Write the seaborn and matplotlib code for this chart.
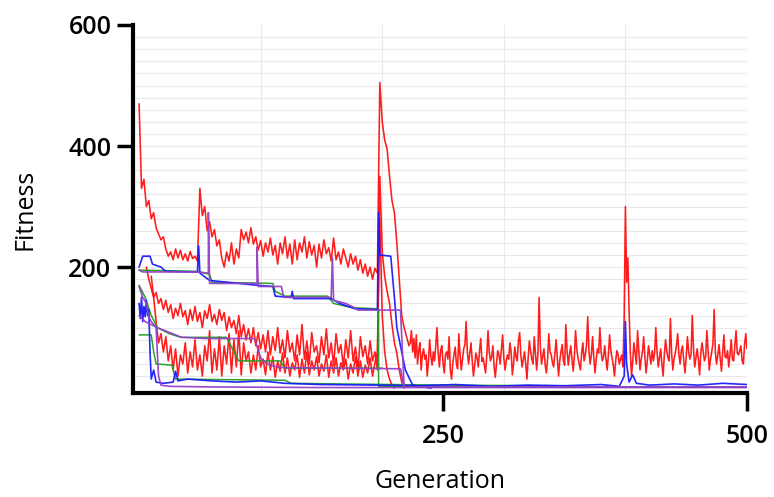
import numpy as np
import pandas as pd
import matplotlib
matplotlib.use("Agg")
import matplotlib.pyplot as plt
import seaborn as sns

# ---- fitness traces (generation, fitness) ----
# run A: sampled every 2 generations up to 222, then every generation
red_a_head_start, red_a_head = 0, [
    470, 330, 345, 300, 310, 280, 290, 265, 255, 245,
    250, 230, 218, 225, 212, 230, 215, 228, 212, 222,
    210, 226, 214, 218, 210, 330, 285, 300, 260, 275,
    250, 262, 235, 245, 215, 200, 225, 210, 240, 205,
    230, 215, 262, 245, 258, 240, 265, 238, 250, 228,
    244, 218, 240, 225, 248, 220, 236, 205, 240, 222,
    250, 215, 238, 205, 245, 212, 240, 225, 250, 215,
    242, 220, 236, 200, 238, 215, 245, 222, 232, 210,
    248, 212, 225, 205, 230, 215, 200, 222, 205, 218,
    195, 212, 190, 205, 185, 200, 180, 198, 190, 505,
    440, 410, 395, 350, 310, 290, 240, 180, 120, 100,
    85, 70,
]
red_a_tail_start, red_a_tail = 223, [
    75, 95, 60, 82, 50, 88, 40, 62, 75, 30, 55, 65, 48, 55, 20, 45, 80, 52, 38, 60,
    45, 70, 100, 58, 35, 62, 70, 42, 25, 55, 60, 48, 85, 30, 15, 40, 55, 68, 40, 32,
    90, 55, 30, 48, 65, 72, 110, 60, 40, 58, 75, 45, 20, 38, 58, 50, 35, 62, 82, 44,
    50, 38, 25, 55, 95, 60, 45, 52, 70, 35, 18, 42, 62, 55, 40, 65, 88, 50, 30, 45,
    55, 48, 75, 60, 22, 40, 68, 52, 45, 78, 92, 55, 35, 48, 60, 40, 15, 50, 78, 62,
    48, 40, 85, 58, 30, 55, 150, 70, 40, 52, 65, 38, 25, 48, 90, 60, 55, 42, 35, 58,
    80, 50, 20, 45, 60, 72, 45, 38, 105, 62, 38, 55, 70, 48, 28, 52, 95, 65, 50, 40,
    30, 58, 75, 45, 55, 70, 118, 62, 40, 55, 85, 50, 25, 48, 65, 58, 100, 60, 45, 52,
    70, 48, 30, 55, 88, 62, 50, 38, 20, 45, 62, 55, 40, 48, 55, 35, 120, 300, 175, 215,
    130, 60, 20, 45, 75, 58, 40, 95, 62, 30, 48, 60, 85, 52, 25, 45, 70, 55, 40, 62,
    45, 58, 100, 60, 35, 50, 65, 40, 20, 55, 80, 62, 50, 45, 115, 58, 30, 48, 58, 70,
    90, 55, 40, 62, 70, 45, 25, 52, 85, 60, 48, 55, 120, 65, 35, 50, 65, 48, 22, 58,
    75, 60, 45, 52, 95, 62, 30, 48, 60, 75, 130, 58, 40, 55, 72, 48, 28, 60, 88, 52,
    50, 62, 35, 55, 80, 48, 45, 70, 95, 58, 55, 62, 70, 45, 40, 72, 90, 65,
]

# runs B and C: sampled every 2 generations
red_b_start, red_b = 6, [
    200, 180, 165, 150, 158, 140, 148, 130, 145, 125,
    138, 115, 132, 120, 140, 118, 128, 105, 130, 112,
    135, 110, 125, 100, 128, 115, 138, 110, 122, 105,
    130, 112, 125, 95, 118, 100, 112, 90, 120, 85,
    105, 80, 98, 75, 100, 70, 92, 65, 88, 60,
    95, 55, 85, 62, 100, 58, 80, 50, 95, 60,
    75, 45, 88, 55, 105, 48, 78, 40, 92, 60,
    70, 42, 85, 55, 98, 50, 75, 38, 90, 58,
    72, 35, 80, 50, 95, 45, 68, 30, 85, 52,
    70, 40, 78, 45, 60, 30, 350, 225, 185, 160,
    140, 105, 75, 58, 30, 10, 2,
]

red_c_start, red_c = 10, [
    185, 150, 110, 75, 90, 60, 85, 45, 70, 30,
    65, 20, 55, 40, 75, 25, 60, 35, 80, 30,
    55, 20, 70, 45, 95, 25, 65, 30, 85, 20,
    70, 40, 90, 25, 80, 35, 95, 22, 75, 45,
    60, 25, 55, 30, 70, 35, 48, 22, 60, 30,
    52, 18, 45, 28, 58, 25, 50, 20, 42, 30,
    55, 18, 48, 25, 60, 22, 45, 30, 52, 20,
    40, 28, 55, 18, 45, 25, 50, 20, 42, 30,
    48, 15, 40, 25, 52, 20, 45, 18, 38, 25,
    50, 20, 42, 60, 280, 120, 60, 30, 15, 5,
    0,
]

# stepwise runs: change points
purple_a_gen = [0, 3, 48, 57, 57, 58, 97, 97, 98, 117, 119, 158, 159, 160, 170, 178, 180, 215, 218, 500]
purple_a_fit = [195, 192, 192, 190, 290, 173, 173, 233, 168, 168, 150, 150, 216, 145, 140, 132, 129, 129, 2, 2]

blue_a_gen = [0, 3, 9, 11, 18, 22, 48, 49, 50, 58, 97, 110, 112, 125, 126, 127, 158, 165, 178, 196,
              197, 198, 207, 210, 212, 216, 219, 225, 240]
blue_a_fit = [200, 218, 218, 205, 200, 193, 192, 235, 190, 178, 170, 168, 152, 150, 160, 148, 148, 140, 131, 130,
              290, 220, 218, 150, 100, 60, 30, 5, 0]

green_a_gen = [0, 48, 58, 60, 110, 112, 120, 155, 160, 175, 197, 197, 340]
green_a_fit = [195, 193, 188, 175, 173, 160, 152, 152, 140, 133, 131, 3, 3]

blue_b_gen = [0, 1, 2, 3, 4, 5, 6, 7, 8, 9, 10, 12, 14, 20, 28, 30, 32, 40, 60, 80, 100, 120, 150,
              200, 230, 260, 290, 320, 350, 380, 395, 399, 400, 401, 403, 406, 409, 420, 440, 460,
              480, 500]
blue_b_fit = [140, 115, 150, 110, 135, 118, 145, 120, 130, 60, 15, 30, 10, 8, 10, 28, 12, 15, 12, 10, 12, 8, 6,
              5, 4, 6, 3, 5, 4, 6, 3, 20, 110, 40, 10, 22, 8, 5, 7, 5, 8, 6]

purple_b_gen = [0, 3, 6, 8, 10, 14, 16, 18, 25, 60, 150, 300, 500]
purple_b_fit = [168, 150, 140, 118, 110, 100, 20, 5, 3, 2, 1, 1, 1]

purple_c_gen = [0, 5, 15, 25, 35, 55, 95, 100, 105, 115, 215, 218]
purple_c_fit = [120, 110, 100, 92, 84, 82, 82, 50, 40, 34, 32, 0]

green_b_gen = [0, 10, 12, 14, 27, 30, 120, 125, 250, 340, 345, 500]
green_b_fit = [88, 88, 60, 40, 38, 15, 13, 8, 5, 4, 2, 2]

green_c_gen = [0, 5, 10, 15, 25, 34, 72, 78, 82, 116, 120, 200]
green_c_fit = [170, 150, 120, 100, 90, 84, 84, 60, 45, 45, 33, 33]

RED, BLUE, GREEN, PURPLE = "#ff1010", "#1a1aff", "#1e9e1e", "#9440c8"

sns.set_theme(style="white")
plt.rcParams["font.family"] = ["Open Sans", "DejaVu Sans"]
plt.rcParams["text.color"] = "black"

fig = plt.figure(figsize=(7.74, 4.97), dpi=100)
ax = fig.add_axes([133 / 774, 104 / 497, 614 / 774, 368 / 497])

# faint background grid
for v in range(20, 600, 20):
    ax.axhline(v, color="#e9e9e9", lw=0.8, zorder=0)
for g in (100, 200, 300, 400):
    ax.axvline(g, color="#e9e9e9", lw=0.8, zorder=0)


def trace(gens, fits, color, lw):
    sns.lineplot(x=np.asarray(gens, float), y=np.asarray(fits, float), color=color,
                 lw=lw, sort=False, estimator=None, ax=ax, alpha=0.95)


def sampled(start, step, values):
    return start + step * np.arange(len(values))


red_a_gen = np.concatenate([sampled(red_a_head_start, 2, red_a_head),
                            sampled(red_a_tail_start, 1, red_a_tail)])
trace(red_a_gen, red_a_head + red_a_tail, RED, 1.15)
trace(sampled(red_b_start, 2, red_b), red_b, RED, 1.15)
trace(sampled(red_c_start, 2, red_c), red_c, RED, 1.15)

trace(green_a_gen, green_a_fit, GREEN, 1.1)
trace(green_b_gen, green_b_fit, GREEN, 1.1)
trace(green_c_gen, green_c_fit, GREEN, 1.1)
trace(blue_a_gen, blue_a_fit, BLUE, 1.2)
trace(blue_b_gen, blue_b_fit, BLUE, 1.2)
trace(purple_a_gen, purple_a_fit, PURPLE, 1.2)
trace(purple_b_gen, purple_b_fit, PURPLE, 1.2)
trace(purple_c_gen, purple_c_fit, PURPLE, 1.2)

ax.set_xlim(-5, 500)
ax.set_ylim(-8, 600)
ax.set_xticks([250, 500])
ax.set_yticks([200, 400, 600])

for side in ("top", "right"):
    ax.spines[side].set_visible(False)
for side in ("left", "bottom"):
    ax.spines[side].set_color("black")
    ax.spines[side].set_linewidth(3)

ax.tick_params(axis="y", direction="out", length=11.5, width=2.5, color="black",
               labelsize=18, labelcolor="black", pad=4, left=True)
ax.tick_params(axis="x", direction="out", length=13, width=2.5, color="black",
               labelsize=18, labelcolor="black", pad=9, bottom=True)
for lbl in ax.get_xticklabels() + ax.get_yticklabels():
    lbl.set_fontweight("semibold")

ax.set_xlabel("Generation", fontsize=18, color="black", labelpad=15)
ax.set_ylabel("Fitness", fontsize=18, color="black", labelpad=22)

fig.savefig("out.png", dpi=100)
